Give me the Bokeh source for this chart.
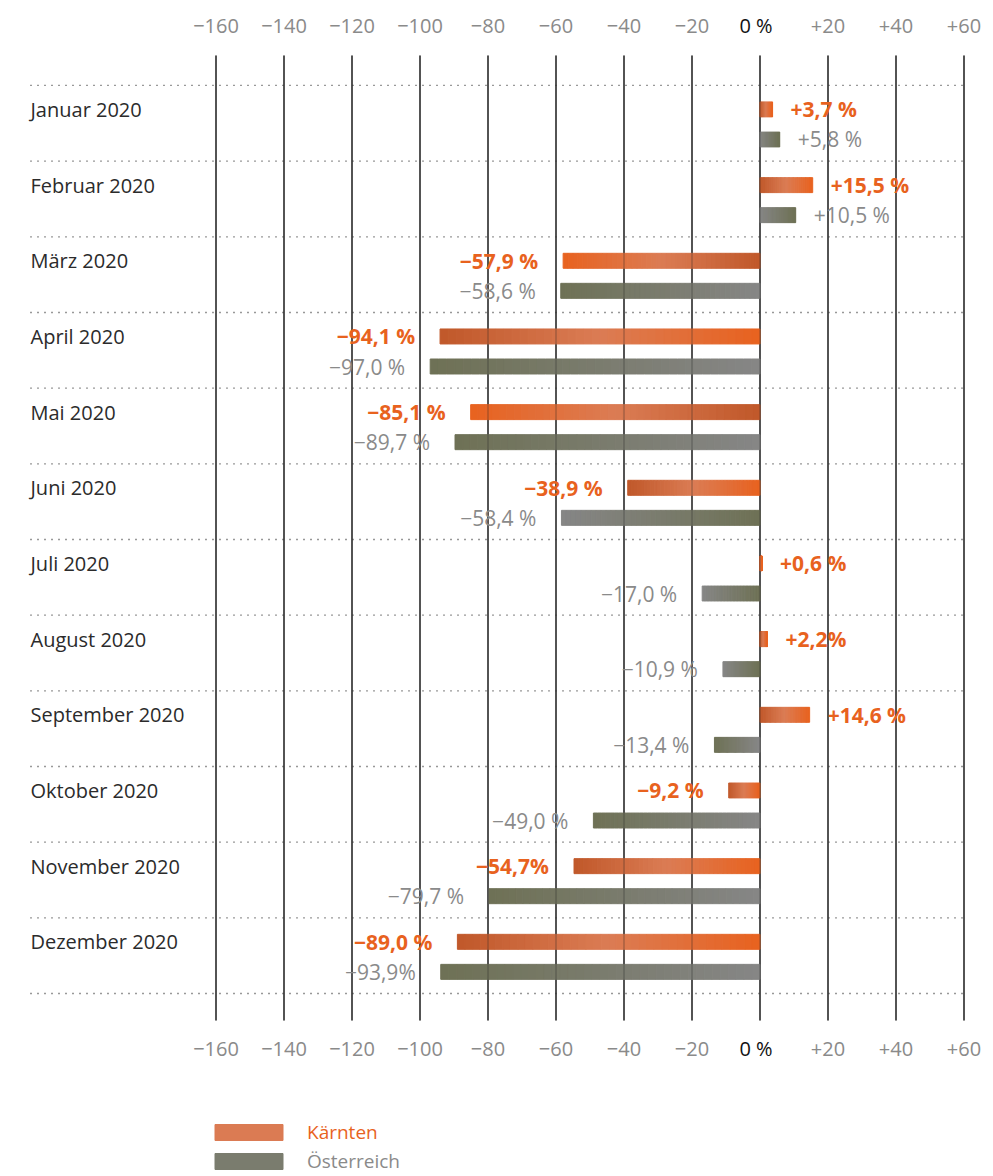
from bokeh.plotting import figure
from bokeh.models import Range1d, ColumnDataSource, Legend, LegendItem
from bokeh.core.properties import value
from bokeh.embed import file_html
from bokeh.resources import INLINE

# ---------------- data ----------------
months = ["Januar 2020", "Februar 2020", "März 2020", "April 2020", "Mai 2020",
          "Juni 2020", "Juli 2020", "August 2020", "September 2020",
          "Oktober 2020", "November 2020", "Dezember 2020"]
kaernten = [3.7, 15.5, -57.9, -94.1, -85.1, -38.9, 0.6, 2.2, 14.6, -9.2, -54.7, -89.0]
oesterreich = [5.8, 10.5, -58.6, -97.0, -89.7, -58.4, -17.0, -10.9, -13.4, -49.0, -79.7, -93.9]
kaernten_labels = ["+3,7 %", "+15,5 %", "−57,9 %", "−94,1 %", "−85,1 %", "−38,9 %",
                   "+0,6 %", "+2,2%", "+14,6 %", "−9,2 %", "−54,7%", "−89,0 %"]
oesterreich_labels = ["+5,8 %", "+10,5 %", "−58,6 %", "−97,0 %", "−89,7 %", "−58,4 %",
                      "−17,0 %", "−10,9 %", "−13,4 %", "−49,0 %", "−79,7 %", "−93,9%"]
tick_values = [-160, -140, -120, -100, -80, -60, -40, -20, 0, 20, 40, 60]
tick_labels = ["−160", "−140", "−120", "−100", "−80", "−60", "−40", "−20", "0 %",
               "+20", "+40", "+60"]
series_names = ["Kärnten", "Österreich"]

# ---------------- style ----------------
FONT = "Open Sans"
ORANGE = "#E8621E"
GRAY_TXT = "#8a8a8a"
DARK_TXT = "#2b2b2b"
K_STOPS = [(232, 98, 31), (219, 124, 84), (192, 88, 42)]   # bright -> light -> dark
O_STOPS = [(134, 134, 134), (110, 113, 85)]                 # gray -> olive
K_DARK_LEFT = [True, True, False, True, False, True, True, True, True, True, True, True]
O_OLIVE_LEFT = [False, False, True, True, True, False, False, False, True, True, True, True]
K_OFF, O_OFF, BAR_H = -0.183, 0.214, 0.198
N_SLICES = 40

# layout (data units of the full-canvas frame)
W, H = 990, 1174
PX_PER_UNIT, ZERO_PX = 3.4, 759.5
ROW_PX, ROW0_PX = 75.67, 122.8
X_START, X_END = -ZERO_PX / PX_PER_UNIT, (W - ZERO_PX) / PX_PER_UNIT
Y_TOP, Y_BOT = -ROW0_PX / ROW_PX, (H - ROW0_PX) / ROW_PX
LABEL_X = (30 - ZERO_PX) / PX_PER_UNIT
TICK_Y_TOP, TICK_Y_BOT = (25 - ROW0_PX) / ROW_PX, (1048 - ROW0_PX) / ROW_PX
LINE_Y0, LINE_Y1 = (55 - ROW0_PX) / ROW_PX, (1020 - ROW0_PX) / ROW_PX


def lerp(c1, c2, t):
    return tuple(int(round(a + (b - a) * t)) for a, b in zip(c1, c2))


def k_color(t):
    if t < 0.5:
        c = lerp(K_STOPS[0], K_STOPS[1], t / 0.5)
    else:
        c = lerp(K_STOPS[1], K_STOPS[2], (t - 0.5) / 0.5)
    return "#%02x%02x%02x" % c


def o_color(t):
    return "#%02x%02x%02x" % lerp(O_STOPS[0], O_STOPS[1], t)


def gradient_source(values, offset, color_fn, flip):
    """Each bar is split into thin adjacent slices of changing colour."""
    d = dict(y=[], left=[], right=[], color=[])
    for i, (v, f) in enumerate(zip(values, flip)):
        lo, hi = min(0, v), max(0, v)
        step = (hi - lo) / N_SLICES
        for k in range(N_SLICES):
            t = (k + 0.5) / N_SLICES
            tc = 1 - t if f else t
            d["y"].append(i + offset)
            d["left"].append(lo + step * k)
            d["right"].append(lo + step * (k + 1))
            d["color"].append(color_fn(tc))
    return ColumnDataSource(d)


p = figure(width=W, height=H,
           x_range=Range1d(X_START, X_END), y_range=Range1d(Y_BOT, Y_TOP),
           output_backend="svg", toolbar_location=None,
           x_axis_location=None, y_axis_location=None,
           min_border_left=0, min_border_right=0, min_border_top=0, min_border_bottom=0)
p.outline_line_color = None
p.grid.visible = False

n = len(months)
# dotted separators
seps = [i - 0.5 for i in range(n + 1)]
p.segment(x0=[LABEL_X] * len(seps), x1=[tick_values[-1]] * len(seps), y0=seps, y1=seps,
          line_color="#333333", line_width=1.3, line_dash="1 6")
# vertical lines
p.segment(x0=tick_values, x1=tick_values, y0=[LINE_Y0] * len(tick_values),
          y1=[LINE_Y1] * len(tick_values), line_color="#3a3a3a", line_width=1.6)

# tick labels (top and bottom)
tick_colors = ["#111111" if t == 0 else GRAY_TXT for t in tick_values]
tick_dx = [-4 if t == 0 else 0 for t in tick_values]
for ty in (TICK_Y_TOP, TICK_Y_BOT):
    p.text(x=tick_values, y=[ty] * len(tick_values), text=tick_labels,
           text_color=tick_colors, x_offset=tick_dx,
           text_font=value(FONT), text_font_size="20px",
           text_align="center", text_baseline="middle")

# bars
src_k = gradient_source(kaernten, K_OFF, k_color, K_DARK_LEFT)
src_o = gradient_source(oesterreich, O_OFF, o_color, O_OLIVE_LEFT)
rk = p.hbar(y="y", left="left", right="right", height=BAR_H, source=src_k,
            fill_color="color", line_color="color", line_width=1)
ro = p.hbar(y="y", left="left", right="right", height=BAR_H, source=src_o,
            fill_color="color", line_color="color", line_width=1)

# vertical lines seen through the bars
p.segment(x0=tick_values, x1=tick_values, y0=[LINE_Y0] * len(tick_values),
          y1=[LINE_Y1] * len(tick_values), line_color="#222222", line_width=1.4,
          line_alpha=0.3)

# category labels
p.text(x=[LABEL_X] * n, y=[i + K_OFF for i in range(n)], text=months,
       text_font=value(FONT), text_font_size="20px", text_color=DARK_TXT,
       text_align="left", text_baseline="middle")


# value labels
def value_labels(values, labels, offset, color, weight):
    pos = dict(x=[], y=[], t=[])
    neg = dict(x=[], y=[], t=[])
    for i, (v, lab) in enumerate(zip(values, labels)):
        d = pos if v >= 0 else neg
        d["x"].append(v); d["y"].append(i + offset); d["t"].append(lab)
    p.text(x="x", y="y", text="t", source=ColumnDataSource(pos), x_offset=18,
           text_align="left", text_baseline="middle", text_color=color,
           text_font=value(FONT), text_font_size="21px", text_font_style=weight)
    p.text(x="x", y="y", text="t", source=ColumnDataSource(neg), x_offset=-25,
           text_align="right", text_baseline="middle", text_color=color,
           text_font=value(FONT), text_font_size="21px", text_font_style=weight)


value_labels(kaernten, kaernten_labels, K_OFF, ORANGE, "bold")
value_labels(oesterreich, oesterreich_labels, O_OFF, GRAY_TXT, "normal")

# legends (one per series, to colour each label)
for name, rend, color, idx, vy in ((series_names[0], rk, ORANGE, 3 * N_SLICES + N_SLICES // 2, 29),
                                   (series_names[1], ro, GRAY_TXT, 2 * N_SLICES + N_SLICES // 2, 0)):
    leg = Legend(items=[LegendItem(label=value(name), renderers=[rend], index=idx)],
                 location=(206, vy), orientation="vertical", glyph_width=85, glyph_height=20,
                 label_standoff=16, label_text_color=color, label_text_font=FONT,
                 label_text_font_size="19px", padding=0, margin=0, spacing=0,
                 border_line_alpha=0, background_fill_alpha=0, label_height=20)
    p.add_layout(leg)

open("out.html", "w").write(file_html(p, INLINE))
